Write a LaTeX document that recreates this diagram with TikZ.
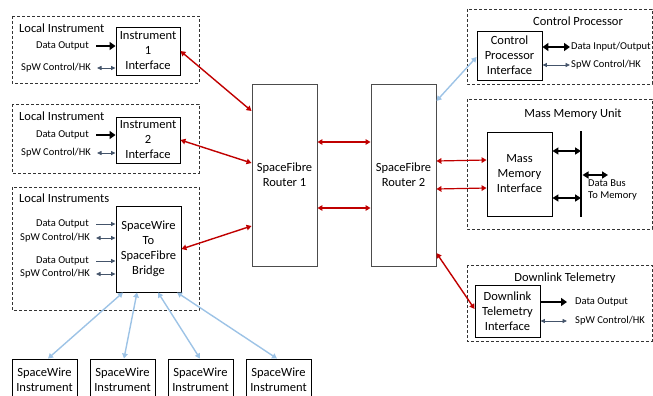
\documentclass[tikz,border=0pt]{standalone}
\usepackage{fontspec}
\setmainfont{Carlito}
\usetikzlibrary{arrows.meta}
\definecolor{sfred}{HTML}{C00000}
\definecolor{swblue}{HTML}{9DC3E6}
\definecolor{ctlgrey}{HTML}{44546A}
\begin{document}
\begin{tikzpicture}[x=1pt,y=-1pt,
  grp/.style={draw=black!80, dash pattern=on 3pt off 2pt, line width=0.8pt},
  box/.style={draw=black, line width=0.9pt, fill=white, align=center, inner sep=0pt,
    font=\fontsize{12.5}{15}\selectfont},
  router/.style={box, draw=black!70},
  title/.style={inner sep=0pt, font=\fontsize{12.5}{15}\selectfont},
  small/.style={inner sep=0pt, font=\fontsize{10.5}{12}\selectfont},
  sf/.style={draw=sfred, line width=1.4pt, {Triangle[length=5pt,width=5.5pt]}-{Triangle[length=5pt,width=5.5pt]}},
  sw/.style={draw=swblue, line width=1.4pt, {Triangle[length=5pt,width=5.5pt]}-{Triangle[length=5pt,width=5.5pt]}},
  data/.style={draw=black, line width=2.6pt, -{Triangle[length=6pt,width=8pt]}},
  data2/.style={draw=black, line width=2.6pt, {Triangle[length=6pt,width=8pt]}-{Triangle[length=6pt,width=8pt]}},
  bus/.style={draw=black, line width=2pt, {Triangle[length=6pt,width=7pt]}-{Triangle[length=6pt,width=7pt]}},
  ctl/.style={draw=ctlgrey, line width=0.8pt, {Triangle[length=4.5pt,width=4pt]}-{Triangle[length=4.5pt,width=4pt]}},
  ctlone/.style={draw=ctlgrey, line width=0.8pt, -{Triangle[length=4.5pt,width=4pt]}}
]
\useasboundingbox (0,0) rectangle (653,396);

% ---- left-hand instrument groups ----
\draw[grp] (12,16) rectangle (199,83);
\draw[grp] (12,104) rectangle (199,173);
\draw[grp] (12,187) rectangle (199,310);

\node[title, anchor=mid west] (lt1) at (19,30) {Local Instrument};
\node[title, anchor=mid west] (lt2) at (19,118) {Local Instrument};
\node[title, anchor=mid west] (lt3) at (19,200) {Local Instruments};

\node[box, minimum width=64, minimum height=48] (if1) at (148,51) {Instrument\\1\\Interface};
\node[box, minimum width=64, minimum height=46] (if2) at (148,140) {Instrument\\2\\Interface};
\node[box, minimum width=65, minimum height=86] (br) at (148.5,249) {SpaceWire\\To\\SpaceFibre\\Bridge};

% local data / control inputs
\node[small, anchor=mid east] (d1) at (89,46) {Data Output};
\node[small, anchor=mid east] (c1) at (91,68) {SpW Control/HK};
\draw[data] ([xshift=7pt]d1.mid east) -- (if1.west |- d1.mid east);
\draw[ctl] ([xshift=6pt]c1.mid east) -- (if1.west |- c1.mid east);

\node[small, anchor=mid east] (d2) at (89,135) {Data Output};
\node[small, anchor=mid east] (c2) at (91,153) {SpW Control/HK};
\draw[data] ([xshift=7pt]d2.mid east) -- (if2.west |- d2.mid east);
\draw[ctl] ([xshift=6pt]c2.mid east) -- (if2.west |- c2.mid east);

\node[small, anchor=mid east] (d3) at (89,224) {Data Output};
\node[small, anchor=mid east] (c3) at (90,238) {SpW Control/HK};
\node[small, anchor=mid east] (d4) at (89,261) {Data Output};
\node[small, anchor=mid east] (c4) at (90,274) {SpW Control/HK};
\draw[ctlone] ([xshift=7pt]d3.mid east) -- (br.west |- d3.mid east);
\draw[ctl] ([xshift=6pt]c3.mid east) -- (br.west |- c3.mid east);
\draw[ctlone] ([xshift=7pt]d4.mid east) -- (br.west |- d4.mid east);
\draw[ctl] ([xshift=6pt]c4.mid east) -- (br.west |- c4.mid east);

% ---- SpaceWire instruments ----
\node[box, minimum width=65, minimum height=42] (sw1) at (44.5,380) {SpaceWire\\Instrument};
\node[box, minimum width=65, minimum height=42] (sw2) at (122.5,380) {SpaceWire\\Instrument};
\node[box, minimum width=65, minimum height=42] (sw3) at (200.5,380) {SpaceWire\\Instrument};
\node[box, minimum width=65, minimum height=42] (sw4) at (278.5,380) {SpaceWire\\Instrument};

\draw[sw] ([xshift=-25.5pt]br.south) -- ([xshift=3.5pt]sw1.north);
\draw[sw] ([xshift=-11.5pt]br.south) -- ([xshift=1.5pt]sw2.north);
\draw[sw] ([xshift=9.5pt]br.south) -- ([xshift=-0.5pt]sw3.north);
\draw[sw] ([xshift=28.5pt]br.south) -- ([xshift=-1.5pt]sw4.north);

% ---- routers ----
\node[router, minimum width=65, minimum height=182] (r1) at (284.5,175) {SpaceFibre\\Router 1};
\node[router, minimum width=65, minimum height=182] (r2) at (403.5,175) {SpaceFibre\\Router 2};

\draw[sf] (if1.east) -- ([yshift=64pt]r1.west);
\draw[sf] (if2.east) -- ([yshift=12pt]r1.west);
\draw[sf] (br.east) -- ([yshift=-51pt]r1.west);
\draw[sf] ([yshift=33pt]r1.east) -- ([yshift=33pt]r2.west);
\draw[sf] ([yshift=-33pt]r1.east) -- ([yshift=-33pt]r2.west);

% ---- right-hand units ----
\draw[grp] (467,9) rectangle (652,84);
\draw[grp] (467,99) rectangle (652,229);
\draw[grp] (467,265) rectangle (652,341);

\node[title] (lcp) at (578,21) {Control Processor};
\node[title] (lmm) at (573,114) {Mass Memory Unit};
\node[title] (ldl) at (565,278) {Downlink Telemetry};

\node[box, minimum width=65, minimum height=49] (cp) at (509.5,55.5) {Control\\Processor\\Interface};
\node[box, minimum width=65, minimum height=84] (mm) at (519.5,174) {Mass\\Memory\\Interface};
\node[box, minimum width=65, minimum height=52] (dl) at (507.5,311) {Downlink\\Telemetry\\Interface};

% control processor
\node[small, anchor=mid west] (cpd) at (571,47) {Data Input/Output};
\node[small, anchor=mid west] (cpc) at (571,65) {SpW Control/HK};
\draw[data2] (cp.east |- cpd.mid west) -- ([xshift=-1pt]cpd.mid west);
\draw[ctl] (cp.east |- cpc.mid west) -- ([xshift=-1pt]cpc.mid west);
\draw[sw] ([yshift=74pt]r2.east) -- ([yshift=-1.5pt]cp.west);

% mass memory
\coordinate (busT) at (581,131);
\coordinate (busB) at (581,217);
\coordinate (busO) at (608,175);
\draw[black, line width=2.8pt] (busT) -- (busB);
\draw[bus] ([yshift=23pt]mm.east) -- ([yshift=23pt]mm.east -| busT);
\draw[bus] ([yshift=-24pt]mm.east) -- ([yshift=-24pt]mm.east -| busT);
\draw[bus] (busT |- busO) ++(1.5,0) -- (busO);
\node[small, anchor=mid west, align=left] (bus) at (588,196.5) {Data Bus\\To Memory};
\draw[sf, line width=1.2pt] ([yshift=14pt]r2.east) -- ([yshift=14pt]mm.west);
\draw[sf, line width=1.2pt] ([yshift=-14pt]r2.east) -- ([yshift=-14pt]mm.west);

% downlink telemetry
\node[small, anchor=mid west] (dld) at (575,302) {Data Output};
\node[small, anchor=mid west] (dlc) at (575,321) {SpW Control/HK};
\draw[data] (dl.east |- dld.mid west) -- ([xshift=-8pt]dld.mid west);
\draw[ctl] (dl.east |- dlc.mid west) -- ([xshift=-8pt]dlc.mid west);
\draw[sf] ([yshift=-78pt]r2.east) -- ([yshift=2pt]dl.west);
\end{tikzpicture}
\end{document}
